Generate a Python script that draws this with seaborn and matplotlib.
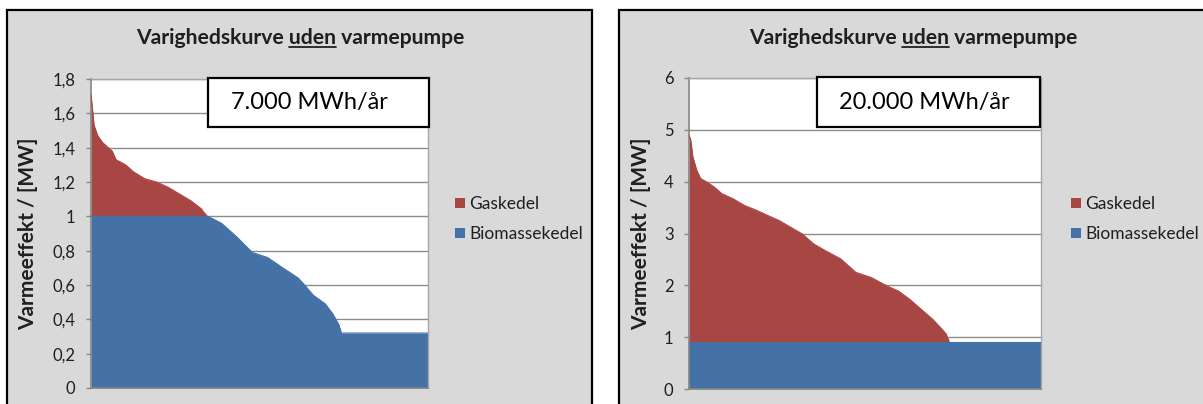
import matplotlib
matplotlib.use("Agg")
import matplotlib.pyplot as plt
from matplotlib.patches import Rectangle, Patch
from matplotlib.lines import Line2D
import seaborn as sns
import pandas as pd

# ---------------- data ----------------
title_text = "Varighedskurve uden varmepumpe"
underlined_word = "uden"
ylabel_text = "Varmeeffekt / [MW]"
series_names = ["Gaskedel", "Biomassekedel"]

# left chart (7.000 MWh/år)
box_L = "7.000 MWh/år"
hours_L = [0, 80, 175, 300, 550, 650, 900, 1100, 1390, 1700, 2000, 2300, 2600, 2890, 3040,
           3390, 3790, 4190, 4590, 4985, 5390, 5590, 5780, 6090, 6290, 6440, 6510, 8760]
bio_L = [1.00, 1.00, 1.00, 1.00, 1.00, 1.00, 1.00, 1.00, 1.00, 1.00, 1.00, 1.00, 1.00, 1.00, 1.00,
         0.96, 0.88, 0.79, 0.76, 0.70, 0.64, 0.59, 0.54, 0.49, 0.43, 0.37, 0.32, 0.32]
gas_L = [0.71, 0.53, 0.47, 0.43, 0.38, 0.33, 0.30, 0.26, 0.22, 0.20, 0.17, 0.13, 0.09, 0.04, 0.00,
         0.00, 0.00, 0.00, 0.00, 0.00, 0.00, 0.00, 0.00, 0.00, 0.00, 0.00, 0.00, 0.00]
yticks_L = [0, 0.2, 0.4, 0.6, 0.8, 1.0, 1.2, 1.4, 1.6, 1.8]
yticklabels_L = ["0", "0,2", "0,4", "0,6", "0,8", "1", "1,2", "1,4", "1,6", "1,8"]

# right chart (20.000 MWh/år)
box_R = "20.000 MWh/år"
hours_R = [0, 44, 96, 193, 289, 429, 622, 815, 1095, 1384, 1673, 1953, 2243, 2532, 2821,
           3101, 3390, 3776, 4152, 4538, 4923, 5212, 5493, 5685, 5878, 6071, 6264, 6412, 6491, 8760]
bio_R = [0.90, 0.90, 0.90, 0.90, 0.90, 0.90, 0.90, 0.90, 0.90, 0.90, 0.90, 0.90, 0.90, 0.90, 0.90,
         0.90, 0.90, 0.90, 0.90, 0.90, 0.90, 0.90, 0.90, 0.90, 0.90, 0.90, 0.90, 0.90, 0.90, 0.90]
gas_R = [4.00, 3.90, 3.58, 3.32, 3.16, 3.10, 3.00, 2.87, 2.77, 2.64, 2.55, 2.45, 2.35, 2.22, 2.09,
         1.90, 1.77, 1.61, 1.35, 1.25, 1.09, 0.99, 0.83, 0.70, 0.57, 0.44, 0.28, 0.15, 0.00, 0.00]
yticks_R = [0, 1, 2, 3, 4, 5, 6]
yticklabels_R = ["0", "1", "2", "3", "4", "5", "6"]

# ---------------- style ----------------
RED = "#A84644"
BLUE = "#4471A6"
PANEL = "#D9D9D9"
GRID = "#8C8C8C"
AXC = "#868686"
TXT = "#1f1f1f"

sns.set_style("white")
plt.rcParams["font.family"] = ["Lato", "DejaVu Sans"]

W, H = 1203, 404
fig = plt.figure(figsize=(W / 100, H / 100), dpi=100)
fig.patch.set_facecolor("white")


def px_rect(x0, y0, x1, y1):
    """pixel box (top-left origin) -> figure fraction rect"""
    return (x0 / W, 1 - y1 / H, (x1 - x0) / W, (y1 - y0) / H)


# panel backgrounds
for (x0, x1) in [(7, 592), (619, 1215)]:
    l, b, w, h = px_rect(x0, 10, x1, 430)
    fig.add_artist(Rectangle((l, b), w, h, transform=fig.transFigure,
                             facecolor=PANEL, edgecolor="black", lw=1.6, zorder=-10))

panels = [
    dict(axrect=px_rect(91, 79, 428, 388), hours=hours_L, bio=bio_L, gas=gas_L,
         yticks=yticks_L, ylabels=yticklabels_L, ymax=1.8, box=box_L,
         boxrect=(208, 78, 429, 127), boxtext_x=309,
         title_x=300, ylabel_x=38, legend_x=455),
    dict(axrect=px_rect(689, 78, 1041, 389), hours=hours_R, bio=bio_R, gas=gas_R,
         yticks=yticks_R, ylabels=yticklabels_R, ymax=6, box=box_R,
         boxrect=(817, 77, 1040, 127), boxtext_x=924,
         title_x=913, ylabel_x=651, legend_x=1071),
]

titles = []
for p in panels:
    ax = fig.add_axes(p["axrect"])
    ax.set_facecolor("white")
    ax.set_axisbelow(True)
    df = pd.DataFrame({"h": p["hours"], "bio": p["bio"], "gas": p["gas"]})
    ax.stackplot(df["h"], df["bio"], df["gas"], colors=[BLUE, RED], lw=0, zorder=2)
    sns.lineplot(x=df["h"], y=df["bio"], color=BLUE, lw=0.8, ax=ax, zorder=3)
    top = df["bio"] + df["gas"]
    sns.lineplot(x=df["h"][df["gas"] > 0], y=top[df["gas"] > 0], color=RED, lw=0.8, ax=ax, zorder=3)
    ax.set_xlim(0, 8760)
    ax.set_ylim(0, p["ymax"])
    ax.set_xticks([])
    ax.set_yticks(p["yticks"])
    ax.set_yticklabels(p["ylabels"])
    ax.yaxis.grid(True, color=GRID, lw=1.0)
    ax.tick_params(axis="y", direction="out", length=3.6, width=1, color=AXC,
                   labelsize=12, labelcolor=TXT, pad=7.5, left=True)
    for side in ["left", "bottom"]:
        ax.spines[side].set_color(AXC)
        ax.spines[side].set_linewidth(1.2)
    for side in ["top", "right"]:
        ax.spines[side].set_color("#A6A6A6")
        ax.spines[side].set_linewidth(1.0)
    ax.set_xlabel("")
    ax.set_ylabel(ylabel_text, fontsize=15, fontweight="bold", color=TXT)
    l, b, w, h = p["axrect"]
    ax.yaxis.set_label_coords((p["ylabel_x"] / W - l) / w, 0.5)

    # text box
    x0, y0, x1, y1 = p["boxrect"]
    bl, bb, bw, bh = px_rect(x0, y0, x1, y1)
    fig.add_artist(Rectangle((bl, bb), bw, bh, transform=fig.transFigure,
                             facecolor="white", edgecolor="black", lw=1.6, zorder=20))
    fig.text(p["boxtext_x"] / W, bb + bh / 2, p["box"], ha="center", va="center",
             fontsize=17, color="black", zorder=21)

    # title
    t = fig.text(p["title_x"] / W, 1 - 38 / H, title_text, ha="center", va="center",
                 fontsize=15.2, fontweight="bold", color=TXT)
    titles.append(t)

    # legend
    handles = [Patch(facecolor=RED, edgecolor="none"), Patch(facecolor=BLUE, edgecolor="none")]
    leg = fig.legend(handles, series_names, loc="upper left",
                     bbox_to_anchor=(p["legend_x"] / W, 1 - 196 / H),
                     frameon=False, fontsize=12.5, handlelength=0.55, handleheight=0.55,
                     handletextpad=0.25, labelspacing=0.82, borderaxespad=0, borderpad=0)
    for txt in leg.get_texts():
        txt.set_color(TXT)

# underline the word "uden" in each title
fig.canvas.draw()
r = fig.canvas.get_renderer()


def text_width(s, ref):
    tmp = fig.text(0, 0, s, fontsize=ref.get_fontsize(), fontweight=ref.get_fontweight(),
                   family=ref.get_fontfamily())
    w = tmp.get_window_extent(r).width
    tmp.remove()
    return w


prefix = title_text[: title_text.index(underlined_word) + len(underlined_word)]
for t in titles:
    tb = t.get_window_extent(r)
    wp = text_width(prefix, t)
    wu = text_width(underlined_word, t)
    xa = tb.x0 + wp - wu
    xb = tb.x0 + wp
    yy = tb.y0 + 1.5
    fig.add_artist(Line2D([xa / fig.bbox.width, xb / fig.bbox.width],
                          [yy / fig.bbox.height, yy / fig.bbox.height],
                          transform=fig.transFigure, color=TXT, lw=1.3))

fig.savefig("out.png", dpi=100, facecolor="white")
